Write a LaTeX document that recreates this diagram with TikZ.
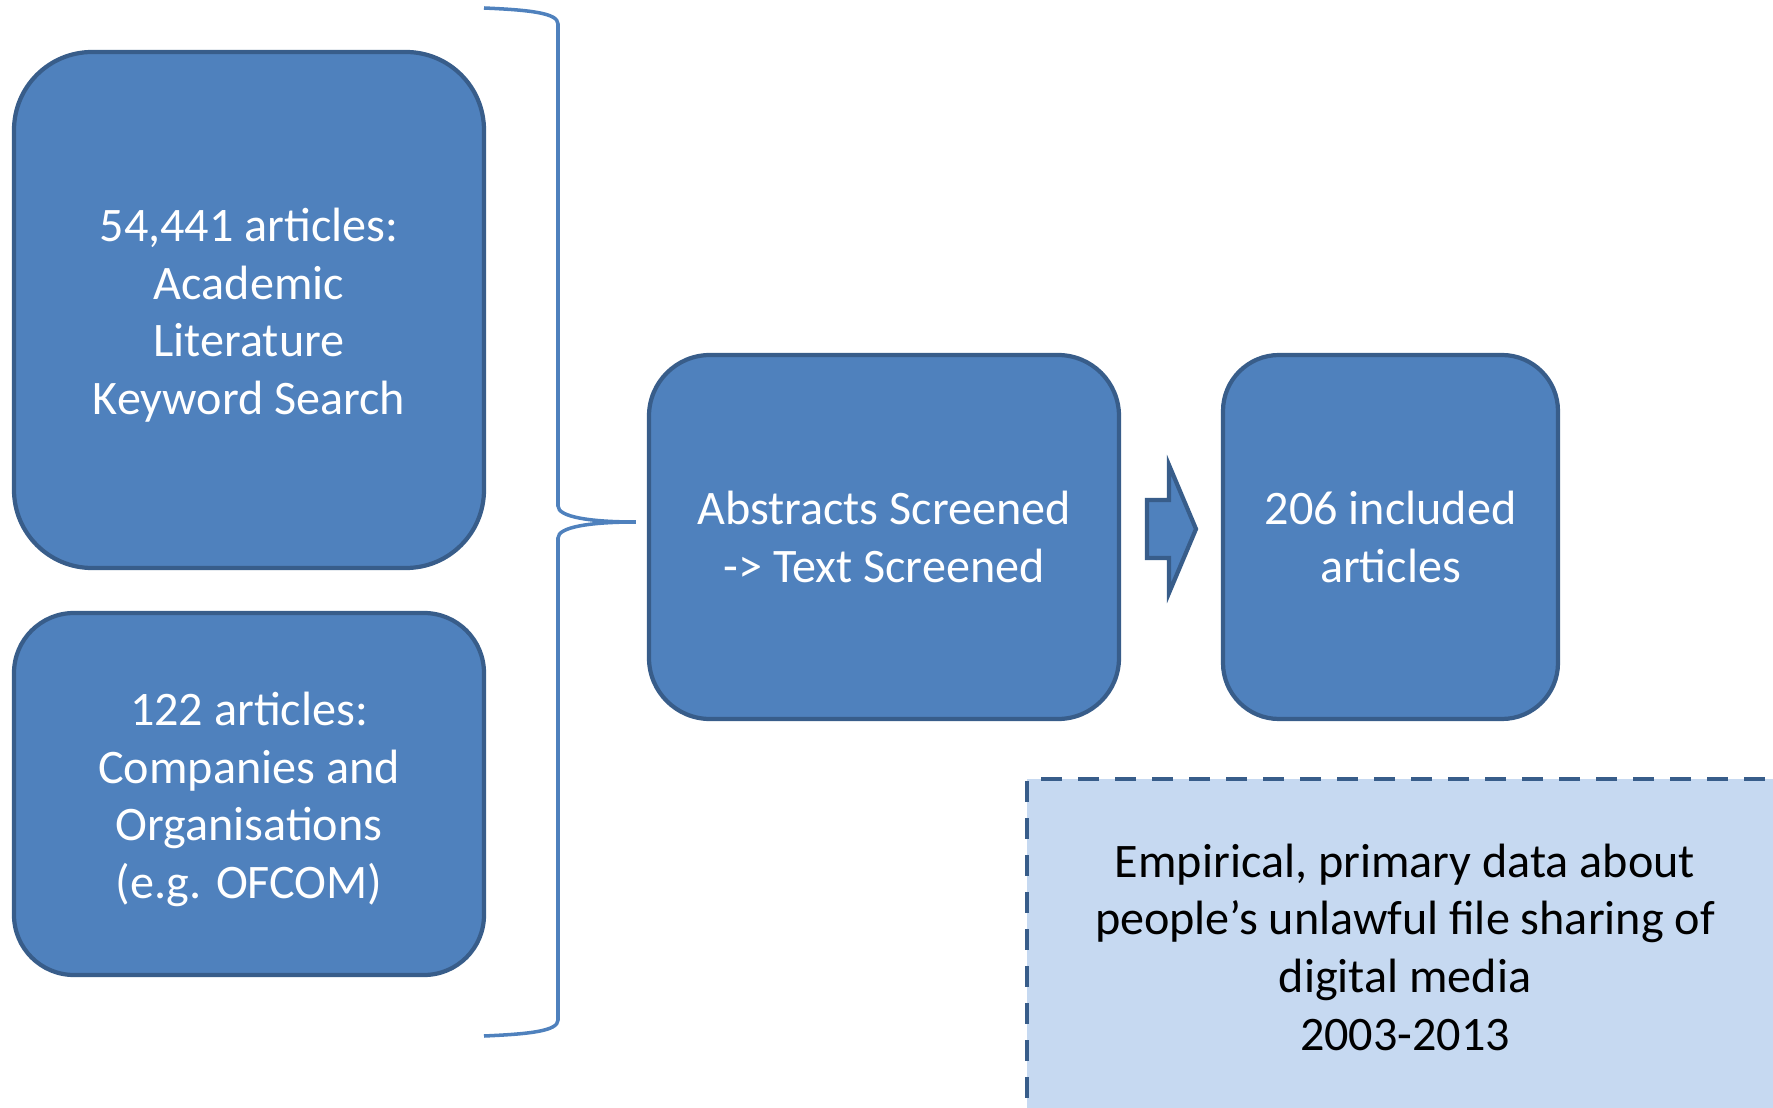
\documentclass[tikz,border=0pt]{standalone}
\usepackage{fontspec}
\setmainfont{Carlito}
\usepackage{tikz}
\definecolor{boxblue}{HTML}{4F81BD}
\definecolor{boxedge}{HTML}{385D8A}
\definecolor{notefill}{HTML}{C6D9F1}
\newcommand{\lowline}[1]{\raisebox{-1.5pt}[\height][\depth]{#1}}

\tikzset{
  stage/.style={draw=boxedge, line width=1.2pt, fill=boxblue, text=white, align=center,
    font=\fontsize{13.7}{16.4}\selectfont, inner sep=0pt},
}

\begin{document}
\begin{tikzpicture}[x=0.1mm,y=-0.1mm]
\useasboundingbox (0,0) rectangle (1773,1108);

          % Two sources on the left
          \node[stage, minimum width=47mm, minimum height=51.6mm, rounded corners=7.8mm] (academic) at (249,310)
            {\lowline{54,441 articles:}\\\lowline{Academic}\\\lowline{Literature}\\\lowline{Keyword Search}};
          \node[stage, minimum width=47mm, minimum height=36.2mm, rounded corners=6mm] (companies) at (249,794)
            {\lowline{122 articles:}\\\lowline{Companies and}\\\lowline{Organisations}\\\lowline{(e.g. OFCOM)}};

          % Screening and result
          \node[stage, minimum width=47mm, minimum height=36.4mm, rounded corners=6.1mm] (screen) at (884,537)
            {Abstracts Screened\\-> Text Screened};
          \node[stage, minimum width=33.5mm, minimum height=36.4mm, rounded corners=5.6mm] (included) at (1390.5,537)
            {206 included\\articles};

          % Brace joining the sources
          \coordinate (bracetop) at (484,8);
          \coordinate (bracetip) at ([xshift=-1.1mm,yshift=1.5mm]screen.west);
          \coordinate (bracebot) at (484,1036);
          \draw[boxblue, line width=1pt] (bracetop) .. controls (530,10) and (558,13) .. (558,24)
            -- (558,506) .. controls (558,517) and (590,522) .. (bracetip)
            .. controls (590,522) and (558,527) .. (558,538)
            -- (558,1020) .. controls (558,1031) and (530,1034) .. (bracebot);

          % Block arrow between screening and result
          \draw[boxedge, line width=1.2pt, fill=boxblue] (1147,500) -- (1169,500) -- (1169,465) -- (1196,529)
            -- (1169,593) -- (1169,558) -- (1147,558) -- cycle;

          % Dashed note, bottom right
          \node[draw=boxedge, dash pattern=on 2.1mm off 1.6mm, line width=1.2pt, fill=notefill,
            minimum width=75.6mm, minimum height=33.6mm, align=center, inner sep=0pt,
            font=\fontsize{13.7}{16.4}\selectfont] (criteria) at (1405,947)
            {Empirical, primary data about\\people’s unlawful file sharing of\\digital media\\2003-2013};

\end{tikzpicture}
\end{document}
